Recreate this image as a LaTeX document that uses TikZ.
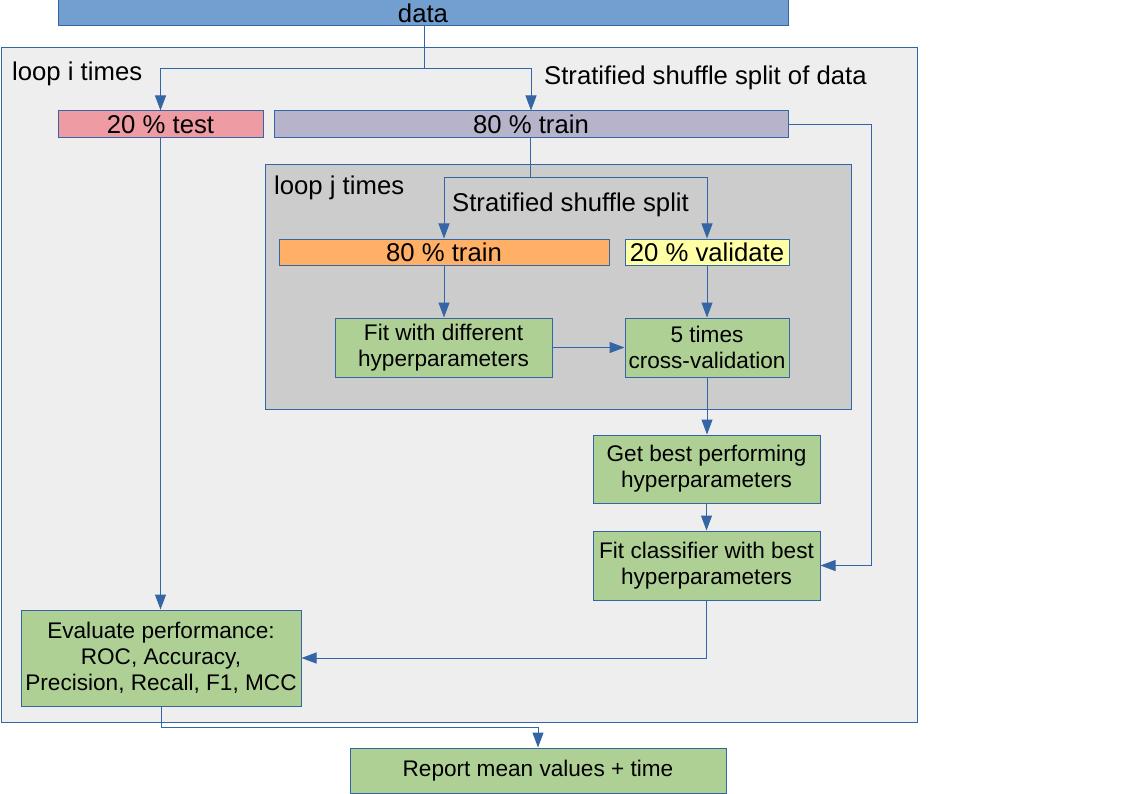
\documentclass[tikz,border=0pt]{standalone}
\usepackage{fontspec}
\setmainfont{Liberation Sans}
\usetikzlibrary{arrows.meta,calc}
\definecolor{lnblue}{HTML}{3465A4}
\definecolor{datablue}{HTML}{729FCF}
\definecolor{outerfill}{HTML}{EEEEEE}
\definecolor{innerfill}{HTML}{CCCCCC}
\definecolor{testpink}{HTML}{EE9BA3}
\definecolor{trainpurple}{HTML}{B7B3CA}
\definecolor{trainorange}{HTML}{FFB066}
\definecolor{valyellow}{HTML}{FFFFA6}
\definecolor{boxgreen}{HTML}{AFD095}
\tikzset{
  bigtxt/.style={font=\fontsize{25.7}{29}\selectfont},
  boxtxt/.style={font=\fontsize{22.6}{26}\selectfont, align=center},
  bar/.style={draw=lnblue, line width=1pt, inner sep=0pt, bigtxt},
  greenbox/.style={draw=lnblue, line width=1pt, fill=boxgreen, inner sep=0pt, boxtxt},
  frame/.style={draw=lnblue, line width=1pt, inner sep=0pt},
  label/.style={inner sep=0pt, anchor=west, bigtxt},
  conn/.style={draw=lnblue, line width=1pt},
  arr/.style={conn, -{Triangle[length=15pt,width=11pt]}}
}
\begin{document}
\begin{tikzpicture}[x=1pt,y=-1pt]
\useasboundingbox (0,0) rectangle (1123,794);
% frames
\node[frame, fill=outerfill, minimum width=916, minimum height=674] (outer) at (459,385) {};
\node[frame, fill=innerfill, minimum width=586, minimum height=244] (inner) at (558,287) {};
% bars
\node[bar, fill=datablue, minimum width=730, minimum height=26] (data) at (423,13) {data};
\node[bar, fill=testpink, minimum width=205, minimum height=27] (test) at (160.5,124.5) {20 \% test};
\node[bar, fill=trainpurple, minimum width=514, minimum height=27] (train) at (531,124.5) {80 \% train};
\node[bar, fill=trainorange, minimum width=330, minimum height=26] (train2) at (444,252) {80 \% train};
\node[bar, fill=valyellow, minimum width=164, minimum height=26] (val) at (707,252) {20 \% validate};
% labels
\node[label] (loopi) at (12,74) {loop i times};
\node[label] (split1) at (544,78) {Stratified shuffle split of data};
\node[label] (loopj) at (274,188) {loop j times};
\node[label] (split2) at (452,205) {Stratified shuffle split};
% green boxes
\node[greenbox, minimum width=217, minimum height=59] (fitdiff) at (443.5,347.5) {Fit with different\\hyperparameters};
\node[greenbox, minimum width=164, minimum height=59] (cv) at (707,347.5) {5 times\\cross-validation};
\node[greenbox, minimum width=227, minimum height=68] (best) at (706.5,469) {Get best performing\\hyperparameters};
\node[greenbox, minimum width=227, minimum height=69] (fitbest) at (706.5,565.5) {Fit classifier with best\\hyperparameters};
\node[greenbox, minimum width=280, minimum height=96] (eval) at (161,658) {Evaluate performance:\\ROC, Accuracy,\\Precision, Recall, F1, MCC};
\node[greenbox, minimum width=376, minimum height=45] (report) at (538,770.5) {Report mean values + time};
% junction coordinates
\coordinate (j1) at (424,69);
\coordinate (j2) at (530,178);
\coordinate (rx) at (871,0);
\coordinate (j3) at (0,727);
% connectors
\draw[conn] (data.south -| j1) -- (j1);
\draw[arr] (j1) -| (test.north);
\draw[arr] (j1) -| (train.north);
\draw[arr] (train.east) -- (train.east -| rx) |- (fitbest.east);
\draw[conn] (train.south -| j2) -- (j2);
\draw[arr] (j2) -| (train2.north);
\draw[arr] (j2) -| (val.north);
\draw[arr] (train2.south) -- (train2.south |- fitdiff.north);
\draw[arr] (val.south) -- (cv.north);
\draw[arr] (fitdiff.east) -- (cv.west);
\draw[arr] (cv.south) -- (cv.south |- best.north);
\draw[arr] (best.south) -- (fitbest.north);
\draw[arr] (fitbest.south) |- (eval.east);
\draw[arr] (test.south) -- (test.south |- eval.north);
\draw[arr] (eval.south) -- (eval.south |- j3) -| (report.north);
\end{tikzpicture}
\end{document}
